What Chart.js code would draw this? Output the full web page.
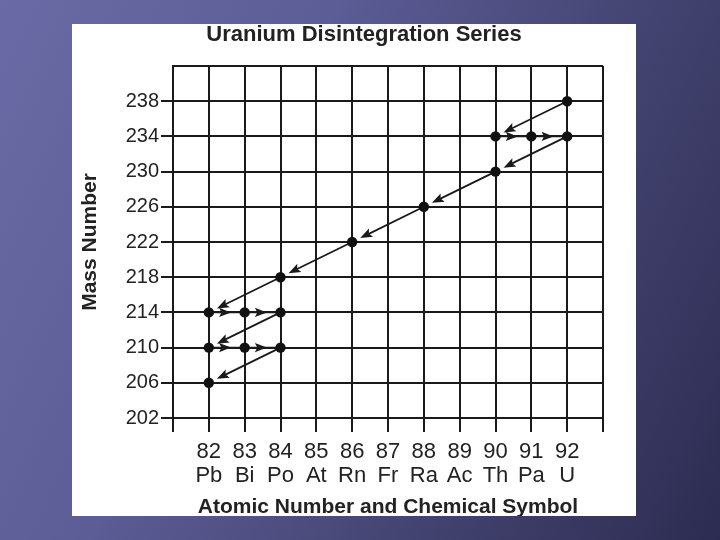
<!DOCTYPE html>
<html><head><meta charset="utf-8">
<script src="https://cdn.jsdelivr.net/npm/chart.js@4.4.1/dist/chart.umd.min.js"></script>
<style>
html,body{margin:0;padding:0;width:720px;height:540px;overflow:hidden;}
body{background:linear-gradient(115deg,#6a6aa6 0%,#5c5c96 35%,#42426f 70%,#2c2c52 100%);}
#panel{position:absolute;left:72px;top:24px;width:564px;height:492px;background:#fff;}
canvas{display:block}
</style></head><body>
<div id="panel"><canvas id="c" width="564" height="492"></canvas></div>
<script>
// Categories (x axis)
const atomicNumbers = [82, 83, 84, 85, 86, 87, 88, 89, 90, 91, 92];
const elementSymbols = ['Pb', 'Bi', 'Po', 'At', 'Rn', 'Fr', 'Ra', 'Ac', 'Th', 'Pa', 'U'];
// Tick labels (y axis)
const massTicks = [202, 206, 210, 214, 218, 222, 226, 230, 234, 238];
// Decay chain, in order: U-238 -> ... -> Pb-206
const nuclideZ = [92, 90, 91, 92, 90, 88, 86, 84, 82, 83, 84, 82, 83, 84, 82];
const nuclideA = [238, 234, 234, 234, 230, 226, 222, 218, 214, 214, 214, 210, 210, 210, 206];

const INK = '#1a1a1a';
const FONT = 'Liberation Sans, Arial, Helvetica, sans-serif';

const arrowPlugin = {
  id: 'decayArrows',
  beforeDatasetsDraw(chart) {
    const {ctx, scales: {x, y}} = chart;
    ctx.save();
    ctx.strokeStyle = INK; ctx.fillStyle = INK; ctx.lineWidth = 1.8;
    for (let i = 0; i < nuclideZ.length - 1; i++) {
      const x0 = x.getPixelForValue(nuclideZ[i]), y0 = y.getPixelForValue(nuclideA[i]);
      const x1 = x.getPixelForValue(nuclideZ[i + 1]), y1 = y.getPixelForValue(nuclideA[i + 1]);
      const dx = x1 - x0, dy = y1 - y0, len = Math.hypot(dx, dy), ux = dx / len, uy = dy / len;
      const beta = nuclideZ[i + 1] > nuclideZ[i];
      let tipX, tipY, endX, endY;
      if (beta) { tipX = x0 + dx * 0.62; tipY = y0 + dy * 0.62; endX = x1; endY = y1; }
      else { tipX = x1 - ux * 9; tipY = y1 - uy * 9; endX = tipX - ux * 5; endY = tipY - uy * 5; }
      ctx.beginPath(); ctx.moveTo(x0, y0); ctx.lineTo(endX, endY); ctx.stroke();
      const hl = 12, hw = 4.6;
      ctx.beginPath();
      ctx.moveTo(tipX, tipY);
      ctx.lineTo(tipX - ux * hl - uy * hw, tipY - uy * hl + ux * hw);
      ctx.lineTo(tipX - ux * hl * 0.8, tipY - uy * hl * 0.8);
      ctx.lineTo(tipX - ux * hl + uy * hw, tipY - uy * hl - ux * hw);
      ctx.closePath(); ctx.fill();
    }
    ctx.restore();
  }
};

new Chart(document.getElementById('c'), {
  type: 'scatter',
  data: {
    datasets: [{
      data: nuclideZ.map((z, i) => ({x: z, y: nuclideA[i]})),
      pointRadius: 5.2, pointHoverRadius: 5.2,
      backgroundColor: '#111', borderColor: '#111', borderWidth: 0, showLine: false
    }]
  },
  options: {
    responsive: false, animation: false, events: [],
    layout: {padding: {left: 20, right: 0, top: 0, bottom: 0}},
    plugins: {
      legend: {display: false}, tooltip: {enabled: false},
      title: {
        display: true, text: 'Uranium Disintegration Series', color: '#222',
        font: {family: FONT, size: 22, weight: 'bold', lineHeight: 0.8},
        padding: {top: 2, bottom: 22.4}
      }
    },
    scales: {
      x: {
        type: 'linear', min: 81, max: 93,
        afterBuildTicks(s) { s.ticks = [81, ...atomicNumbers, 93].map(v => ({value: v})); },
        afterFit(s) { s.height = 98; },
        ticks: {
          autoSkip: false, maxRotation: 0, minRotation: 0, padding: 8.5, color: '#222',
          font: {family: FONT, size: 22, lineHeight: 1.08},
          callback(v) { const i = atomicNumbers.indexOf(v); return i < 0 ? '' : [String(v), elementSymbols[i]]; }
        },
        grid: {color: INK, lineWidth: 2, tickLength: 14, drawTicks: true},
        border: {display: false},
        title: {
          display: true, text: 'Atomic Number and Chemical Symbol', color: '#222',
          font: {family: FONT, size: 21, weight: 'bold', lineHeight: 1.0},
          padding: {top: 0, bottom: -1.5}
        }
      },
      y: {
        type: 'linear', min: 202, max: 242,
        afterBuildTicks(s) { s.ticks = [...massTicks, 242].map(v => ({value: v})); },
        afterFit(s) { s.width = 81; },
        ticks: {
          padding: 2, color: '#222', font: {family: FONT, size: 20},
          callback(v) { return massTicks.includes(v) ? String(v) : ''; }
        },
        grid: {
          color: INK, lineWidth: 2, tickLength: 12,
          tickColor(c) { return c.tick && c.tick.value === 242 ? 'rgba(0,0,0,0)' : INK; }
        },
        border: {display: true, color: INK, width: 2},
        title: {
          display: true, text: 'Mass Number', color: '#222',
          font: {family: FONT, size: 21, weight: 'bold', lineHeight: 1.0},
          padding: {top: -12.5, bottom: 0}
        }
      },
      yRight: {
        type: 'linear', position: 'right', display: true,
        grid: {display: false, drawTicks: false}, border: {display: false},
        ticks: {display: false},
        afterFit(s) { s.width = 33; }
      }
    }
  },
  plugins: [arrowPlugin]
});
</script>
</body></html>
